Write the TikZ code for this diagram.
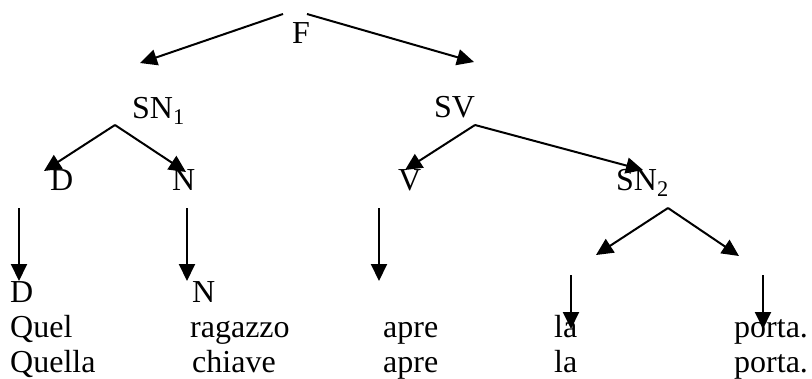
\documentclass[tikz,border=0pt]{standalone}
\usepackage{fontspec}
\setmainfont{Liberation Serif}
\usetikzlibrary{arrows.meta}
\begin{document}
\begin{tikzpicture}[x=1pt,y=-1pt,
  lbl/.style={anchor=base west,inner sep=0pt,font=\fontsize{32}{36}\selectfont},
  arr/.style={line width=2pt,-{Triangle[length=17pt,width=16pt]}}]
\useasboundingbox (0,0) rectangle (812,378);
% labels
\node[lbl] (F) at (292,43) {F};
\node[lbl] (SN1) at (132,118) {SN\textsubscript{1}};
\node[lbl] (SV) at (434,117) {SV};
\node[lbl] (D1) at (50,190) {D};
\node[lbl] (N1) at (172,190) {N};
\node[lbl] (V1) at (398,190) {V};
\node[lbl] (SN2) at (616,190) {SN\textsubscript{2}};
\node[lbl] (D2) at (10,302) {D};
\node[lbl] (N2) at (192,302) {N};
\node[lbl] (w1) at (10,337) {Quel};
\node[lbl] (w2) at (190,337) {ragazzo};
\node[lbl] (w3) at (383,337) {apre};
\node[lbl] (w4) at (554,337) {la};
\node[lbl] (w5) at (734,337) {porta.};
\node[lbl] (x1) at (10,372) {Quella};
\node[lbl] (x2) at (192,372) {chiave};
\node[lbl] (x3) at (383,372) {apre};
\node[lbl] (x4) at (554,372) {la};
\node[lbl] (x5) at (734,372) {porta.};
% connector end points
\coordinate (Fl) at (283,14);
\coordinate (Fr) at (307,14);
\coordinate (tSN1) at (140,63);
\coordinate (tSV) at (474,62);
\coordinate (aSN1) at (115,125);
\coordinate (tD1) at (44,171);
\coordinate (tN1) at (186,172);
\coordinate (aSV) at (475,125);
\coordinate (tV1) at (405,170);
\coordinate (tSN2) at (643,170);
\coordinate (sD) at (19,208);
\coordinate (eD) at (19,281);
\coordinate (sN) at (187,208);
\coordinate (eN) at (187,281);
\coordinate (sV) at (379,208);
\coordinate (eV) at (379,281);
\coordinate (aSN2) at (668,208);
\coordinate (tL) at (596,255);
\coordinate (tR) at (739,256);
\coordinate (sla) at (571,275);
\coordinate (ela) at (571,329);
\coordinate (spo) at (763,275);
\coordinate (epo) at (763,329);
% connectors
\draw[arr] (Fl) -- (tSN1);
\draw[arr] (Fr) -- (tSV);
\draw[arr] (aSN1) -- (tD1);
\draw[arr] (aSN1) -- (tN1);
\draw[arr] (aSV) -- (tV1);
\draw[arr] (aSV) -- (tSN2);
\draw[arr] (sD) -- (eD);
\draw[arr] (sN) -- (eN);
\draw[arr] (sV) -- (eV);
\draw[arr] (aSN2) -- (tL);
\draw[arr] (aSN2) -- (tR);
\draw[arr] (sla) -- (ela);
\draw[arr] (spo) -- (epo);
\end{tikzpicture}
\end{document}
